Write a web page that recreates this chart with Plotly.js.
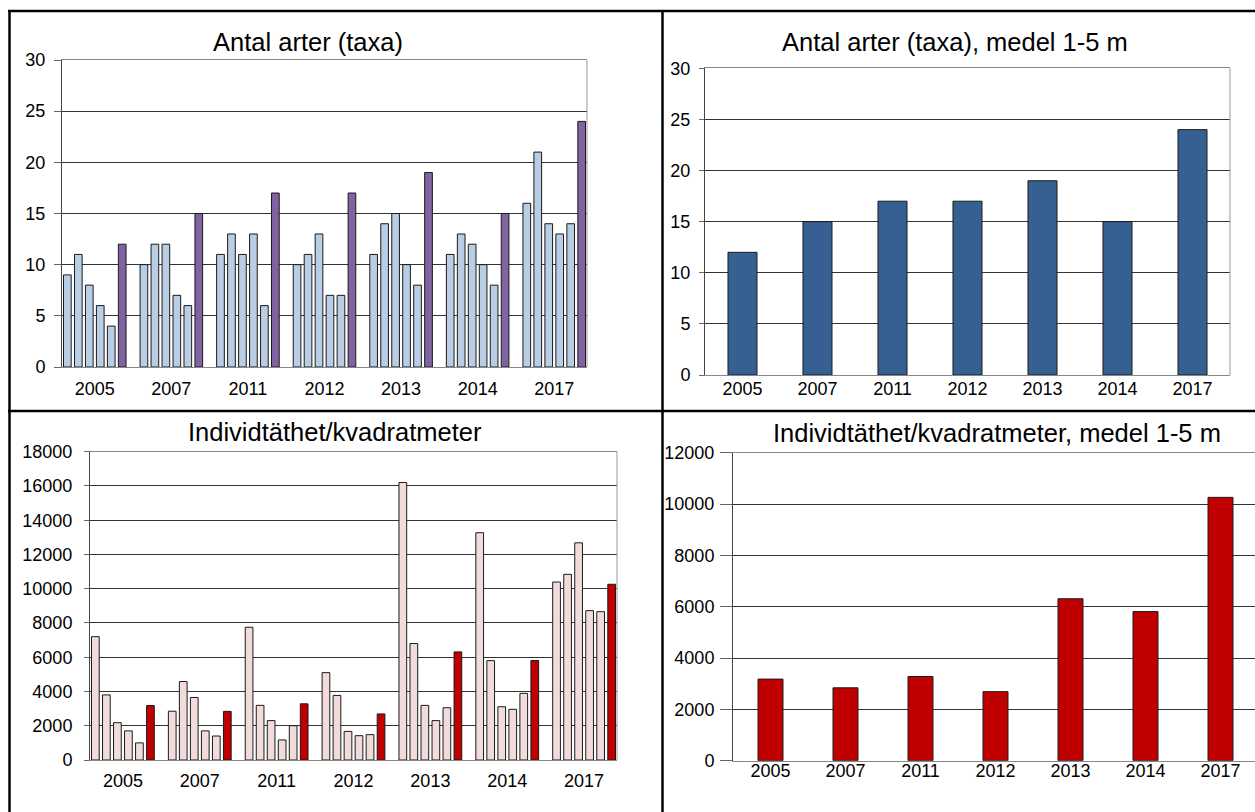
<!DOCTYPE html>
<html>
<head>
<meta charset="utf-8">
<script src="https://cdn.plot.ly/plotly-3.0.1.min.js"></script>
<style>html,body{margin:0;padding:0;background:#fff;}#chart{width:1255px;height:812px;}</style>
</head>
<body>
<div id="chart"></div>
<script>
// ---- data ----
const years = ['2005', '2007', '2011', '2012', '2013', '2014', '2017'];

// Antal arter (taxa) per djup 1-5 m + medel
const taxa_1m = [9, 10, 11, 10, 11, 11, 16];
const taxa_2m = [11, 12, 13, 11, 14, 13, 21];
const taxa_3m = [8, 12, 11, 13, 15, 12, 14];
const taxa_4m = [6, 7, 13, 7, 10, 10, 13];
const taxa_5m = [4, 6, 6, 7, 8, 8, 14];
const taxa_medel = [12, 15, 17, 17, 19, 15, 24];

// Individtäthet/kvadratmeter per djup 1-5 m + medel
const ind_1m = [7200, 2850, 7750, 5100, 16200, 13270, 10390];
const ind_2m = [3800, 4580, 3190, 3770, 6800, 5800, 10840];
const ind_3m = [2180, 3650, 2300, 1670, 3190, 3110, 12680];
const ind_4m = [1700, 1700, 1170, 1420, 2300, 2960, 8720];
const ind_5m = [1000, 1400, 2000, 1480, 3050, 3890, 8660];
const ind_medel = [3180, 2840, 3280, 2690, 6310, 5810, 10260];

const titles = ['Antal arter (taxa)', 'Antal arter (taxa), medel 1-5 m',
                'Individtäthet/kvadratmeter', 'Individtäthet/kvadratmeter, medel 1-5 m'];

// ---- styling ----
const W = 1255, H = 812;
const px = v => v / W;
const py = v => (H - v) / H;
const FONT = 'Liberation Sans, Arial, sans-serif';
const TICK = 18, TITLE = 25.5;
const lightBlue = '#B9CDE5', purple = '#8064A2', darkBlue = '#376092';
const pink = '#F2DCDB', red = '#C00000';
const outline = {color: '#1a1a1a', width: 1};

function bar(y, color, xa, ya, width) {
  const t = {type: 'bar', x: years, y: y, xaxis: xa, yaxis: ya,
    marker: {color: color, line: outline}, hoverinfo: 'skip'};
  if (width) t.width = width;
  return t;
}

const data = [
  bar(taxa_1m, lightBlue, 'x', 'y'),
  bar(taxa_2m, lightBlue, 'x', 'y'),
  bar(taxa_3m, lightBlue, 'x', 'y'),
  bar(taxa_4m, lightBlue, 'x', 'y'),
  bar(taxa_5m, lightBlue, 'x', 'y'),
  bar(taxa_medel, purple, 'x', 'y'),
  bar(taxa_medel, darkBlue, 'x2', 'y2', 0.387),
  bar(ind_1m, pink, 'x3', 'y3'),
  bar(ind_2m, pink, 'x3', 'y3'),
  bar(ind_3m, pink, 'x3', 'y3'),
  bar(ind_4m, pink, 'x3', 'y3'),
  bar(ind_5m, pink, 'x3', 'y3'),
  bar(ind_medel, red, 'x3', 'y3'),
  bar(ind_medel, red, 'x4', 'y4', 0.333)
];

function xax(domain, anchor, range, standoff) {
  return {domain: domain, anchor: anchor, type: 'category', range: range,
    showgrid: false, zeroline: false, showline: true, linecolor: '#888', linewidth: 1,
    mirror: true, ticks: '', ticklabelstandoff: standoff,
    tickfont: {family: FONT, size: TICK, color: '#000'}, fixedrange: true};
}
function yax(domain, anchor, range, dtick, ticklen, standoff) {
  return {domain: domain, anchor: anchor, range: range, dtick: dtick, tickformat: 'd',
    showgrid: true, gridcolor: '#333', gridwidth: 1, zeroline: false,
    showline: true, linecolor: '#444', linewidth: 1,
    ticks: 'outside', ticklen: ticklen, tickcolor: '#666', tickwidth: 1,
    ticklabelstandoff: standoff,
    tickfont: {family: FONT, size: TICK, color: '#000'}, fixedrange: true};
}

const layout = {
  width: W, height: H,
  margin: {l: 0, r: 0, t: 0, b: 0, pad: 0},
  paper_bgcolor: '#fff', plot_bgcolor: '#fff',
  showlegend: false,
  barmode: 'group', bargap: 0.14, bargroupgap: 0.3,
  font: {family: FONT, size: TICK, color: '#000'},
  xaxis:  xax([px(62), px(587)], 'y', [-0.428, 6.428], 5),
  yaxis:  yax([py(367), py(60)], 'x', [0, 30], 5, 7, 5),
  xaxis2: xax([px(705), px(1230)], 'y2', [-0.5, 6.5], -3),
  yaxis2: yax([py(375), py(68.3)], 'x2', [0, 30], 5, 5, 5),
  xaxis3: xax([px(90), px(617)], 'y3', [-0.428, 6.428], 4),
  yaxis3: yax([py(760), py(451.7)], 'x3', [0, 18000], 2000, 5, 8),
  xaxis4: xax([px(733), 1], 'y4', [-0.5, 6.46], -6),
  yaxis4: yax([py(760.7), py(452.7)], 'x4', [0, 12000], 2000, 12, 2),
  annotations: [
    {text: titles[0], x: px(308), y: py(42)},
    {text: titles[1], x: px(955), y: py(42)},
    {text: titles[2], x: px(335), y: py(432)},
    {text: titles[3], x: px(997), y: py(433)}
  ].map(a => Object.assign(a, {xref: 'paper', yref: 'paper', showarrow: false,
      xanchor: 'center', yanchor: 'middle', font: {family: FONT, size: TITLE, color: '#000'}})),
  shapes: [
    // panel frame
    {x0: px(9.5), x1: px(9.5), y0: py(11), y1: 0},
    {x0: px(8), x1: 1, y0: py(11), y1: py(11)},
    {x0: px(662.5), x1: px(662.5), y0: py(11), y1: 0},
    {x0: px(8), x1: 1, y0: py(411), y1: py(411)}
  ].map(s => Object.assign(s, {type: 'line', xref: 'paper', yref: 'paper',
      line: {color: '#000', width: 2.5}})).concat([
    // plot-area right borders
    {xref: 'x domain', yref: 'y domain', x0: 1, x1: 1, y0: 0, y1: 1},
    {xref: 'x2 domain', yref: 'y2 domain', x0: 1, x1: 1, y0: 0, y1: 1},
    {xref: 'x3 domain', yref: 'y3 domain', x0: 1, x1: 1, y0: 0, y1: 1}
  ].map(s => Object.assign(s, {type: 'line', layer: 'above', line: {color: '#999', width: 1}})))
};

Plotly.newPlot('chart', data, layout, {staticPlot: true, displayModeBar: false});
</script>
</body>
</html>
